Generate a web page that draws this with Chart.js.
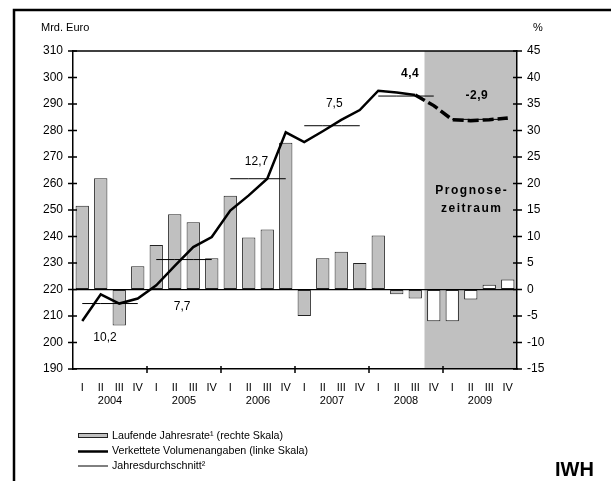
<!DOCTYPE html>
<html>
<head>
<meta charset="utf-8">
<script src="https://cdn.jsdelivr.net/npm/chart.js@4.4.0/dist/chart.umd.min.js"></script>
<style>
  html, body { margin: 0; padding: 0; background: #fff; }
  canvas { display: block; }
</style>
</head>
<body>
<canvas id="chart" width="611" height="481"></canvas>
<script>
const years = ['2004', '2005', '2006', '2007', '2008', '2009'];
const quarters = ['I', 'II', 'III', 'IV'];
// Laufende Jahresrate in % (rechte Skala)
const annualRate = [15.8, 21.0, -6.8, 4.4, 8.4, 14.2, 12.7, 5.9, 17.7, 9.8, 11.3, 27.7,
  -5.0, 5.9, 7.1, 5.0, 10.2, -0.9, -1.7, -6.0, -6.0, -1.9, 0.9, 1.9];
// Verkettete Volumenangaben in Mrd. Euro (linke Skala)
const volume = [208.1, 218.2, 214.7, 216.6, 221.6, 228.9, 236.0, 239.8, 249.8, 255.5, 261.8, 279.3,
  275.6, 279.7, 284.0, 287.7, 295.0, 294.3, 293.4, 289.4, 284.1, 283.7, 284.1, 284.7];
// Jahresdurchschnitt und Veraenderung gegenueber Vorjahr
const yearAverage = [214.7, 231.3, 261.8, 281.8, 293.0, 284.2];
const yearChange = ['10,2', '7,7', '12,7', '7,5', '4,4', '-2,9'];
const forecastStart = 19; // 2008 IV
const leftAxis = { min: 190, max: 310, step: 10 };
const rightAxis = { min: -15, max: 45, step: 5 };

const FONT = "'Liberation Sans', Arial, sans-serif";
const labels = years.flatMap(() => quarters);
const averageData = yearAverage.flatMap(v => quarters.map(() => v));

// where the yearly change labels sit (x in quarter index, y in Mrd. Euro)
const changeLabelPos = [[1.23, 201.9], [5.4, 213.5], [9.42, 268.3], [13.62, 290.2], [17.72, 301.5], [21.33, 293.3]];

const decorations = {
  id: 'decorations',
  beforeDraw(chart) {
    const { ctx, chartArea: area, scales: { x } } = chart;
    ctx.save();
    ctx.fillStyle = '#fff';
    ctx.fillRect(0, 0, chart.width, chart.height);
    const x0 = (x.getPixelForValue(forecastStart - 1) + x.getPixelForValue(forecastStart)) / 2;
    ctx.fillStyle = '#c0c0c0';
    ctx.fillRect(x0, area.top, area.right - x0, area.bottom - area.top);

    ctx.fillStyle = '#000';
    ctx.font = 'bold 12px ' + FONT;
    ctx.letterSpacing = '1.5px';
    ctx.textAlign = 'center';
    ctx.textBaseline = 'middle';
    const cx = (x0 + area.right) / 2;
    const y = chart.scales.y;
    ctx.fillText('Prognose-', cx + 1, y.getPixelForValue(257.1));
    ctx.fillText('zeitraum', cx + 1, y.getPixelForValue(250.5));
    ctx.restore();
  },
  afterDraw(chart) {
    const { ctx, chartArea: area, scales: { x, y, y1 } } = chart;
    ctx.save();
    ctx.strokeStyle = '#000';
    ctx.lineWidth = 1.5;

    // top edge of the plot
    ctx.beginPath();
    ctx.moveTo(area.left, area.top);
    ctx.lineTo(area.right, area.top);
    ctx.stroke();

    // tick marks crossing both value axes
    ctx.beginPath();
    for (let v = leftAxis.min; v <= leftAxis.max; v += leftAxis.step) {
      const py = y.getPixelForValue(v);
      ctx.moveTo(area.left - 5, py);
      ctx.lineTo(area.left + 4, py);
    }
    for (let v = rightAxis.min; v <= rightAxis.max; v += rightAxis.step) {
      const py = y1.getPixelForValue(v);
      ctx.moveTo(area.right - 4, py);
      ctx.lineTo(area.right + 5, py);
    }
    // year separators on the time axis
    for (let i = 1; i < years.length; i++) {
      const px = (x.getPixelForValue(i * 4 - 1) + x.getPixelForValue(i * 4)) / 2;
      ctx.moveTo(px, area.bottom - 3);
      ctx.lineTo(px, area.bottom + 4);
    }
    ctx.stroke();

    // year labels under the quarters
    ctx.fillStyle = '#000';
    ctx.font = '11px ' + FONT;
    ctx.textAlign = 'center';
    ctx.textBaseline = 'middle';
    years.forEach((yr, i) => {
      const px = (x.getPixelForValue(i * 4 + 1) + x.getPixelForValue(i * 4 + 2)) / 2;
      ctx.fillText(yr, px, area.bottom + 32);
    });

    // yearly change labels
    yearChange.forEach((txt, i) => {
      const bold = i >= 4;
      ctx.font = (bold ? 'bold ' : '') + '12px ' + FONT;
      ctx.letterSpacing = bold ? '0.5px' : '0px';
      const [qx, qy] = changeLabelPos[i];
      ctx.fillText(txt, x.getPixelForValue(qx), y.getPixelForValue(qy));
    });
    ctx.letterSpacing = '0px';

    // axis units
    ctx.font = '11px ' + FONT;
    ctx.textAlign = 'left';
    ctx.fillText('Mrd. Euro', 41, 28);
    ctx.textAlign = 'center';
    ctx.fillText('%', 538, 28);

    // legend
    const lx = 78, lw = 30;
    ctx.fillStyle = '#c0c0c0';
    ctx.fillRect(lx, 433, lw, 5);
    ctx.lineWidth = 1;
    ctx.strokeStyle = '#222';
    ctx.strokeRect(lx + 0.5, 433.5, lw - 1, 4);
    ctx.strokeStyle = '#000';
    ctx.lineWidth = 2.5;
    ctx.beginPath();
    ctx.moveTo(lx, 451.5);
    ctx.lineTo(lx + lw, 451.5);
    ctx.stroke();
    ctx.lineWidth = 1;
    ctx.beginPath();
    ctx.moveTo(lx, 466);
    ctx.lineTo(lx + lw, 466);
    ctx.stroke();
    ctx.fillStyle = '#000';
    ctx.font = '10.7px ' + FONT;
    ctx.textAlign = 'left';
    ctx.fillText('Laufende Jahresrate\u00b9 (rechte Skala)', lx + lw + 4, 436);
    ctx.fillText('Verkettete Volumenangaben (linke Skala)', lx + lw + 4, 451.5);
    ctx.fillText('Jahresdurchschnitt\u00b2', lx + lw + 4, 466);

    ctx.font = 'bold 20px ' + FONT;
    ctx.fillText('IWH', 555, 470);

    // outer frame
    ctx.lineWidth = 2.5;
    ctx.beginPath();
    ctx.moveTo(14, chart.height);
    ctx.lineTo(14, 10);
    ctx.lineTo(chart.width, 10);
    ctx.stroke();
    ctx.restore();
  }
};

const forecast = ctx => ctx.p0DataIndex >= forecastStart - 1;

new Chart(document.getElementById('chart'), {
  data: {
    labels,
    datasets: [
      {
        type: 'line',
        label: 'Verkettete Volumenangaben (linke Skala)',
        data: volume,
        yAxisID: 'y',
        borderColor: '#000',
        borderWidth: 2.5,
        pointRadius: 0,
        tension: 0,
        order: 1,
        segment: {
          borderDash: c => forecast(c) ? [11, 4] : undefined,
          borderWidth: c => forecast(c) ? 3.5 : 2.5
        }
      },
      {
        type: 'line',
        label: 'Jahresdurchschnitt',
        data: averageData,
        yAxisID: 'y',
        borderColor: '#000',
        borderWidth: 1,
        pointRadius: 0,
        order: 2,
        segment: {
          borderColor: c => c.p0DataIndex % 4 === 3 ? 'rgba(0,0,0,0)' : '#000'
        }
      },
      {
        type: 'bar',
        label: 'Laufende Jahresrate (rechte Skala)',
        data: annualRate,
        yAxisID: 'y1',
        backgroundColor: annualRate.map((v, i) => i >= forecastStart ? '#fff' : '#c0c0c0'),
        borderColor: '#222',
        borderWidth: 1,
        borderSkipped: false,
        barPercentage: 0.72,
        categoryPercentage: 1,
        order: 3
      }
    ]
  },
  options: {
    responsive: false,
    devicePixelRatio: 1,
    animation: false,
    layout: { padding: { top: 51, left: 0, right: 0, bottom: 0 } },
    plugins: { legend: { display: false }, tooltip: { enabled: false } },
    scales: {
      x: {
        offset: true,
        grid: { display: false, drawTicks: false },
        border: { color: '#000', width: 1.5 },
        ticks: { color: '#000', font: { family: FONT, size: 11 }, padding: 12, autoSkip: false, maxRotation: 0 },
        afterFit: s => { s.height = 112; }
      },
      y: {
        position: 'left',
        min: leftAxis.min,
        max: leftAxis.max,
        grid: { display: false, drawTicks: false },
        border: { color: '#000', width: 1.5 },
        ticks: { stepSize: leftAxis.step, color: '#000', font: { family: FONT, size: 12 }, padding: 10 },
        afterFit: s => { s.width = 73; }
      },
      y1: {
        position: 'right',
        min: rightAxis.min,
        max: rightAxis.max,
        grid: {
          drawTicks: false,
          color: c => c.tick && c.tick.value === 0 ? '#000' : 'rgba(0,0,0,0)',
          lineWidth: 1.2
        },
        border: { color: '#000', width: 1.5 },
        ticks: { stepSize: rightAxis.step, color: '#000', font: { family: FONT, size: 12 }, padding: 10 },
        afterFit: s => { s.width = 94; }
      }
    }
  },
  plugins: [decorations]
});
</script>
</body>
</html>
